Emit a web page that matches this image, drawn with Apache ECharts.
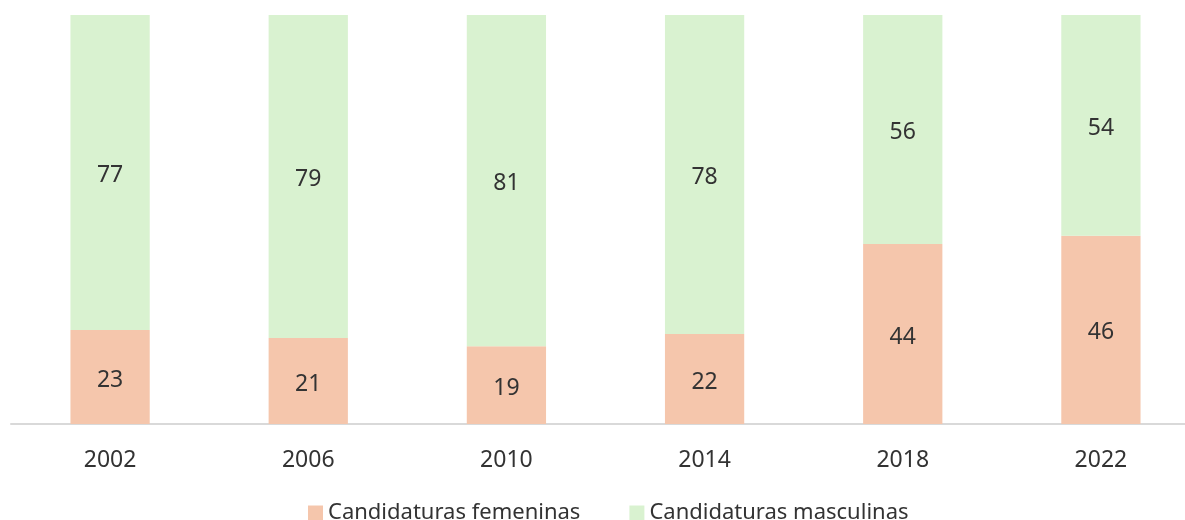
<!DOCTYPE html>
<html><head><meta charset="utf-8">
<script src="https://cdn.jsdelivr.net/npm/echarts@6/dist/echarts.min.js"></script>
<style>html,body{margin:0;padding:0;background:#fff}#c{width:1185px;height:520px}</style>
</head><body><div id="c"></div>
<script>
const categories = ['2002','2006','2010','2014','2018','2022'];
const femeninas = [23, 21, 19, 22, 44, 46];
const masculinas = [77, 79, 81, 78, 56, 54];
const seriesNames = ['Candidaturas femeninas','Candidaturas masculinas'];
const FONT = '"Noto Sans", sans-serif';
const chart = echarts.init(document.getElementById('c'));
const lbl = {show:true, position:'inside', offset:[0,3], color:'#333', fontSize:23, fontFamily:FONT};
chart.setOption({
  animation:false,
  textStyle:{fontFamily:FONT},
  grid:{left:11, width:1189, top:15, bottom:96, containLabel:false, outerBoundsMode:'none'},
  legend:{
    data:seriesNames, top:497, left:303, itemWidth:15, itemHeight:15, itemGap:49,
    icon:'rect', textStyle:{fontSize:22, color:'#333', fontFamily:FONT}
  },
  xAxis:{
    type:'category', data:categories,
    axisLine:{lineStyle:{color:'#d9d9d9', width:2}},
    axisTick:{show:false},
    axisLabel:{fontSize:23, color:'#333', margin:25, fontFamily:FONT}
  },
  yAxis:{type:'value', min:0, max:100, show:false, splitLine:{show:false}},
  series:[
    {name:seriesNames[0], type:'bar', stack:'t', data:femeninas, barWidth:'40%',
     itemStyle:{color:'#F5C6AC'}, label:lbl},
    {name:seriesNames[1], type:'bar', stack:'t', data:masculinas, barWidth:'40%',
     itemStyle:{color:'#D9F2D0'}, label:lbl}
  ]
});
</script></body></html>
